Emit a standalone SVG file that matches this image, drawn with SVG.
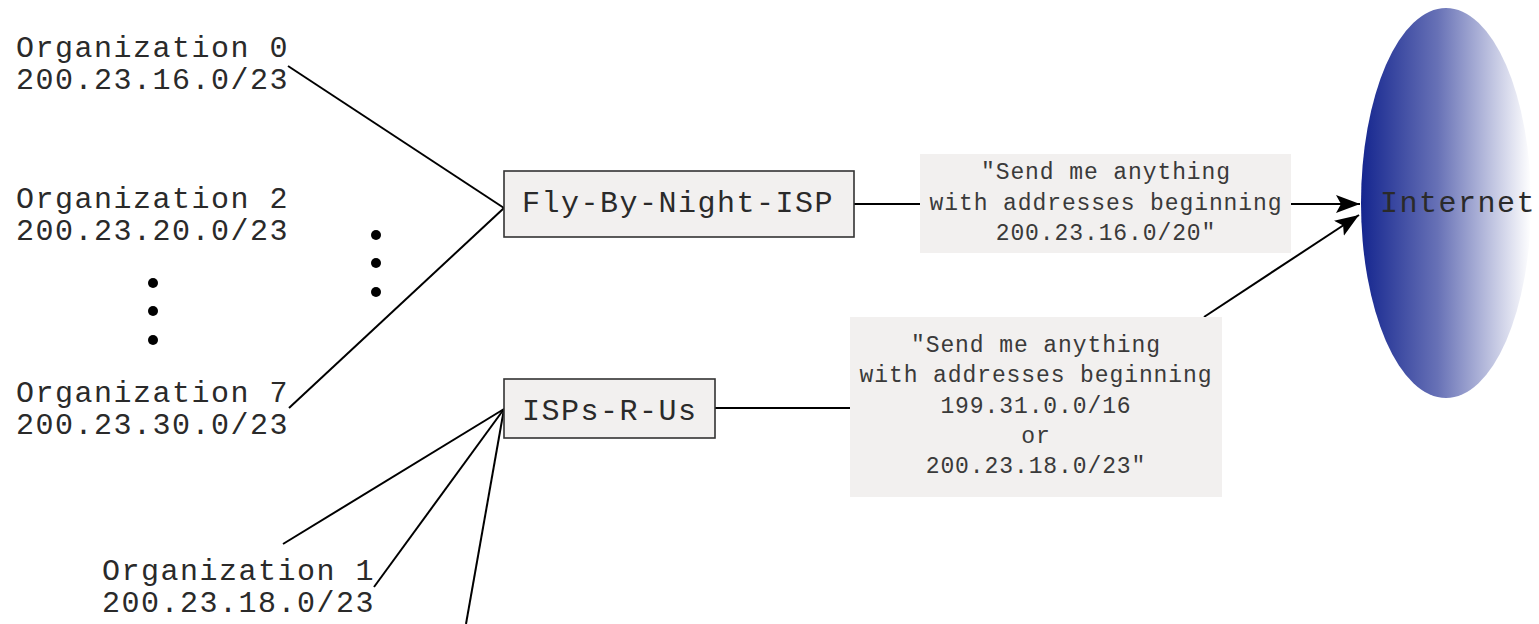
<svg xmlns="http://www.w3.org/2000/svg" width="1539" height="624" viewBox="0 0 1539 624">
<style>
.lbl{font-family:"Liberation Mono","Courier New",monospace;font-size:30px;letter-spacing:1.5px;fill:#2a2a2a}
.cal{font-family:"Liberation Mono","Courier New",monospace;font-size:23px;letter-spacing:0.9px;fill:#3a3a3a;text-anchor:middle}
.box{fill:#f2f0ef;stroke:#333;stroke-width:1.6}
.callout{fill:#f2f0ef}
.ln{stroke:#000;stroke-width:2;fill:none}
.dot{fill:#000}
</style>
<defs>
<linearGradient id="gInet" x1="0" y1="0" x2="1" y2="0">
<stop offset="0" stop-color="#15268f"/>
<stop offset="0.45" stop-color="#6771b6"/>
<stop offset="1" stop-color="#ffffff"/>
</linearGradient>
<marker id="arr" markerUnits="userSpaceOnUse" markerWidth="26" markerHeight="20" refX="24" refY="9" orient="auto">
<path d="M0,0 L24,9 L0,18 L5,9 Z" fill="#000"/>
</marker>
</defs>
<g id="connectors">
<line class="ln" x1="288" y1="66" x2="504" y2="208"/>
<line class="ln" x1="289" y1="408" x2="504" y2="208"/>
<line class="ln" x1="283" y1="544" x2="504" y2="409"/>
<line class="ln" x1="374" y1="587" x2="504" y2="409"/>
<line class="ln" x1="466" y1="624" x2="504" y2="409"/>
<line class="ln" x1="854" y1="204" x2="920" y2="204"/>
<line class="ln" x1="715" y1="408" x2="850" y2="408"/>
<line class="ln" x1="1291" y1="204" x2="1360" y2="204" marker-end="url(#arr)"/>
<line class="ln" x1="1204" y1="317" x2="1359" y2="215" marker-end="url(#arr)"/>
</g>
<g id="internet">
<ellipse cx="1446" cy="203" rx="85" ry="195" fill="url(#gInet)"/>
<text class="lbl" x="1380" y="212">Internet</text>
</g>
<g id="org0">
<text class="lbl" x="16" y="57">Organization 0</text>
<text class="lbl" x="16" y="89">200.23.16.0/23</text>
</g>
<g id="org2">
<text class="lbl" x="16" y="208">Organization 2</text>
<text class="lbl" x="16" y="240">200.23.20.0/23</text>
</g>
<g id="org7">
<text class="lbl" x="16" y="402">Organization 7</text>
<text class="lbl" x="16" y="434">200.23.30.0/23</text>
</g>
<g id="org1">
<text class="lbl" x="102" y="580">Organization 1</text>
<text class="lbl" x="102" y="612">200.23.18.0/23</text>
</g>
<g id="dots-left">
<circle class="dot" cx="153" cy="283" r="5"/>
<circle class="dot" cx="153" cy="311" r="5"/>
<circle class="dot" cx="153" cy="340" r="5"/>
</g>
<g id="dots-right">
<circle class="dot" cx="376" cy="235" r="5"/>
<circle class="dot" cx="376" cy="263" r="5"/>
<circle class="dot" cx="376" cy="292" r="5"/>
</g>
<g id="fly-by-night">
<rect class="box" x="504" y="171" width="350" height="66"/>
<text class="lbl" x="522" y="212">Fly-By-Night-ISP</text>
</g>
<g id="isps-r-us">
<rect class="box" x="504" y="379" width="211" height="59"/>
<text class="lbl" x="522" y="420">ISPs-R-Us</text>
</g>
<g id="callout-top">
<rect class="callout" x="920" y="154" width="371" height="99"/>
<text class="cal" x="1106" y="179">"Send me anything</text>
<text class="cal" x="1106" y="210">with addresses beginning</text>
<text class="cal" x="1106" y="240">200.23.16.0/20"</text>
</g>
<g id="callout-bottom">
<rect class="callout" x="850" y="317" width="372" height="180"/>
<text class="cal" x="1036" y="352">"Send me anything</text>
<text class="cal" x="1036" y="382">with addresses beginning</text>
<text class="cal" x="1036" y="413">199.31.0.0/16</text>
<text class="cal" x="1036" y="443">or</text>
<text class="cal" x="1036" y="473">200.23.18.0/23"</text>
</g>
</svg>
